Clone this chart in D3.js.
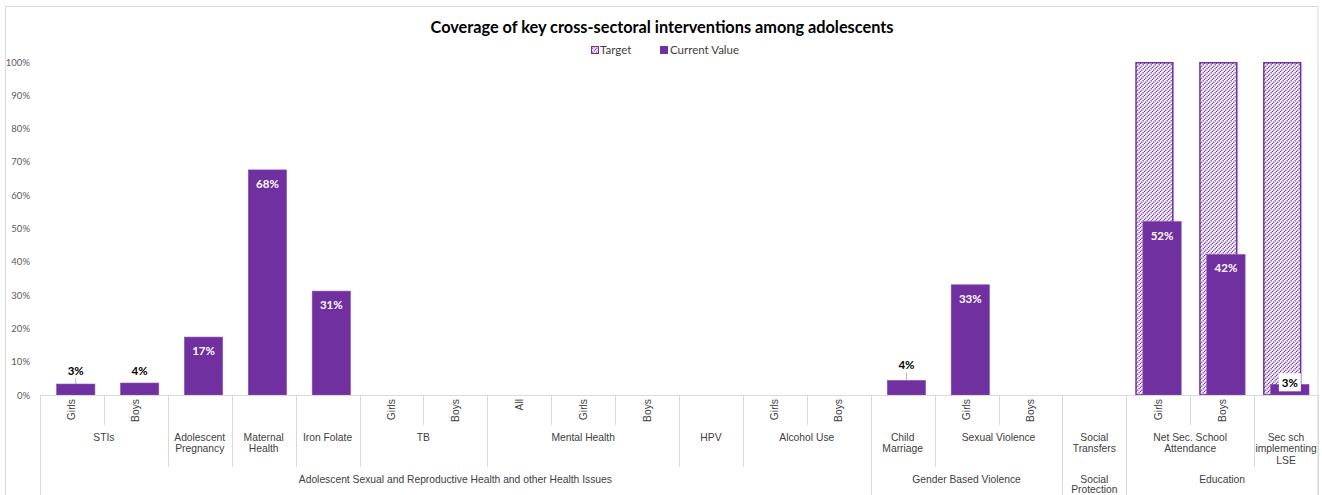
<!DOCTYPE html>
<html>
<head>
<meta charset="utf-8">
<script src="https://cdn.jsdelivr.net/npm/d3@7"></script>
<style>
  html, body { margin: 0; padding: 0; background: #fff; }
  svg { display: block; }
</style>
</head>
<body>
<svg id="chart" width="1322" height="495"></svg>
<script>
// Leaf-level labels (innermost category row)
const level1 = ["Girls","Boys","","","","Girls","Boys","All","Girls","Boys","","Girls","Boys","","Girls","Boys","","Girls","Boys",""];
// Indicator row
const level2 = ["STIs","STIs","Adolescent\nPregnancy","Maternal\nHealth","Iron Folate","TB","TB",
  "Mental Health","Mental Health","Mental Health","HPV","Alcohol Use","Alcohol Use",
  "Child\nMarriage","Sexual Violence","Sexual Violence","Social\nTransfers",
  "Net Sec. School\nAttendance","Net Sec. School\nAttendance","Sec sch\nimplementing\nLSE"];
// Sector row
const level3 = Array(13).fill("Adolescent Sexual and Reproductive Health and other Health Issues")
  .concat(Array(3).fill("Gender Based Violence"))
  .concat(["Social\nProtection"])
  .concat(Array(3).fill("Education"));

const currentValue = [0.033, 0.036, 0.174, 0.676, 0.312, null, null, null, null, null, null, null, null,
  0.044, 0.331, null, null, 0.521, 0.422, 0.032];
const targetValue = [null, null, null, null, null, null, null, null, null, null, null, null, null,
  null, null, null, null, 1, 1, 1];

const yTicks = [0, 0.1, 0.2, 0.3, 0.4, 0.5, 0.6, 0.7, 0.8, 0.9, 1];
const seriesNames = ["Target", "Current Value"];

const PURPLE = "#7030A0";
const GRID = "#D9D9D9";
const AXIS_TEXT = "#404040";

const svg = d3.select("#chart");
const W = 1322, H = 495;

// chart frame
svg.append("rect").attr("x", 5.5).attr("y", 6.5).attr("width", 1312.5).attr("height", 500)
  .attr("fill", "none").attr("stroke", GRID).attr("stroke-width", 1);

// hatched fill for target bars
const defs = svg.append("defs");
const pat = defs.append("pattern").attr("id", "hatch").attr("patternUnits", "userSpaceOnUse")
  .attr("width", 4).attr("height", 4);
pat.append("rect").attr("width", 4).attr("height", 4).attr("fill", "#fff");
pat.append("path").attr("d", "M-1,1 L1,-1 M0,4 L4,0 M3,5 L5,3")
  .attr("stroke", PURPLE).attr("stroke-width", 1.3).attr("stroke-dasharray", "1.3,0.6");

const idx = d3.range(level1.length);
const x = d3.scaleBand().domain(idx).range([40, 1318]).padding(0);
const y = d3.scaleLinear().domain([0, 1]).range([395, 62]);
const bw = x.bandwidth();
const barW = bw * 0.6;
const sx = d3.scalePoint().domain(seriesNames).range([bw / 2 - 3.8, bw / 2 + 3.8]);

// title
svg.append("text").attr("x", 662).attr("y", 33).attr("text-anchor", "middle")
  .attr("font-family", "Lato, 'Open Sans', sans-serif").attr("font-weight", 700)
  .attr("font-size", 16.3).attr("fill", "#000")
  .text("Coverage of key cross-sectoral interventions among adolescents");

// legend
const legend = svg.append("g").attr("font-family", "Lato, sans-serif").attr("font-size", 11.5).attr("fill", AXIS_TEXT);
const legX = [591, 660];
seriesNames.forEach((s, i) => {
  const g = legend.append("g").attr("transform", `translate(${legX[i]},46)`);
  g.append("rect").attr("x", 0.5).attr("y", 0.5).attr("width", 7).attr("height", 7)
    .attr("fill", i === 0 ? "url(#hatch)" : PURPLE).attr("stroke", PURPLE).attr("stroke-width", 1);
  g.append("text").attr("x", i === 0 ? 9 : 10).attr("y", 8).text(s);
});

// y axis labels
const yAxis = d3.axisLeft(y).tickValues(yTicks).tickFormat(d3.format(".0%")).tickSize(0).tickPadding(0);
const yg = svg.append("g").attr("transform", "translate(30,0)").call(yAxis);
yg.select(".domain").remove();
yg.selectAll("text").attr("font-family", "Lato, sans-serif").attr("font-size", 9.5).attr("fill", "#595959");

// bars: target behind, current in front
const bars = svg.append("g");
bars.selectAll("rect.target").data(idx.filter(i => targetValue[i] != null)).join("rect")
  .attr("class", "target")
  .attr("x", i => x(i) + sx("Target") - barW / 2 + 0.75)
  .attr("width", barW - 1.5)
  .attr("y", i => y(targetValue[i]) + 0.75)
  .attr("height", i => y(0) - y(targetValue[i]) - 0.75)
  .attr("fill", "url(#hatch)").attr("stroke", PURPLE).attr("stroke-width", 1.5);

bars.selectAll("rect.current").data(idx.filter(i => currentValue[i] != null)).join("rect")
  .attr("class", "current")
  .attr("x", i => x(i) + sx("Current Value") - barW / 2)
  .attr("width", barW)
  .attr("y", i => y(currentValue[i]))
  .attr("height", i => y(0) - y(currentValue[i]))
  .attr("fill", PURPLE).attr("stroke", "#8A55B5").attr("stroke-width", 0.6);

// data labels
const fmt = d3.format(".0%");
const labelLift = { 0: 13, 1: 12, 13: 15 };   // small bars: label above the bar
const leader = new Set([0, 13]);
const labels = svg.append("g").attr("font-family", "Lato, sans-serif").attr("font-weight", 700)
  .attr("font-size", 11.5).attr("text-anchor", "middle");
idx.filter(i => currentValue[i] != null).forEach(i => {
  const v = currentValue[i];
  const cx = x(i) + sx("Current Value");
  const top = y(v);
  if (targetValue[i] != null && v < 0.1) {
    // small bar sitting inside a hatched target: boxed label
    labels.append("rect").attr("x", cx - 11).attr("y", top - 11).attr("width", 22).attr("height", 18).attr("fill", "#fff");
    labels.append("text").attr("x", cx).attr("y", top - 1).attr("dy", "0.35em").attr("fill", "#000").text(fmt(v));
  } else if (v < 0.1) {
    const ly = top - labelLift[i];
    labels.append("text").attr("x", cx).attr("y", ly).attr("dy", "0.35em").attr("fill", "#000").text(fmt(v));
    if (leader.has(i)) {
      labels.append("line").attr("x1", cx).attr("x2", cx).attr("y1", ly + 7).attr("y2", top)
        .attr("stroke", "#A6A6A6").attr("stroke-width", 0.8);
    }
  } else {
    labels.append("text").attr("x", cx).attr("y", top + 14).attr("dy", "0.35em").attr("fill", "#fff").text(fmt(v));
  }
});

// multi-level category axis
const axis = svg.append("g").attr("font-family", "'Liberation Sans', Arial, sans-serif")
  .attr("font-size", 10.3).attr("fill", AXIS_TEXT);
axis.append("line").attr("x1", 40).attr("x2", 1318).attr("y1", 395.5).attr("y2", 395.5)
  .attr("stroke", GRID).attr("stroke-width", 1);

function runs(arr) {
  const out = [];
  arr.forEach((v, i) => {
    const last = out[out.length - 1];
    if (last && last.name === v && (i === 0 || level3[i] === level3[i - 1])) last.end = i + 1;
    else out.push({ name: v, start: i, end: i + 1 });
  });
  return out;
}
const g2 = runs(level2), g3 = runs(level3);
const b3 = new Set(g3.flatMap(g => [g.start, g.end]));
const b2 = new Set(g2.flatMap(g => [g.start, g.end]));
const edge = i => (i < level1.length ? x(i) : x(level1.length - 1) + bw);

d3.range(level1.length + 1).forEach(i => {
  let y2;
  if (b3.has(i)) y2 = H;
  else if (b2.has(i)) y2 = 467;
  else y2 = 425;
  const xx = Math.round(edge(i)) + 0.5;
  axis.append("line").attr("x1", xx).attr("x2", xx).attr("y1", 395).attr("y2", y2)
    .attr("stroke", GRID).attr("stroke-width", 1);
});

// rotated leaf labels
idx.filter(i => level1[i]).forEach(i => {
  const cx = x(i) + bw / 2;
  axis.append("text").attr("transform", `translate(${cx + 3.5},399) rotate(-90)`)
    .attr("text-anchor", "end").text(level1[i]);
});

function multiline(cx, cy, label, lh) {
  const lines = label.split("\n");
  const t = axis.append("text").attr("text-anchor", "middle");
  lines.forEach((ln, k) => {
    t.append("tspan").attr("x", cx).attr("y", cy + k * lh).attr("dy", "0.35em").text(ln);
  });
}
g2.forEach(g => multiline((edge(g.start) + edge(g.end)) / 2, 437, g.name, 11.5));
g3.forEach(g => multiline((edge(g.start) + edge(g.end)) / 2, 479, g.name, 10.8));
</script>
</body>
</html>
